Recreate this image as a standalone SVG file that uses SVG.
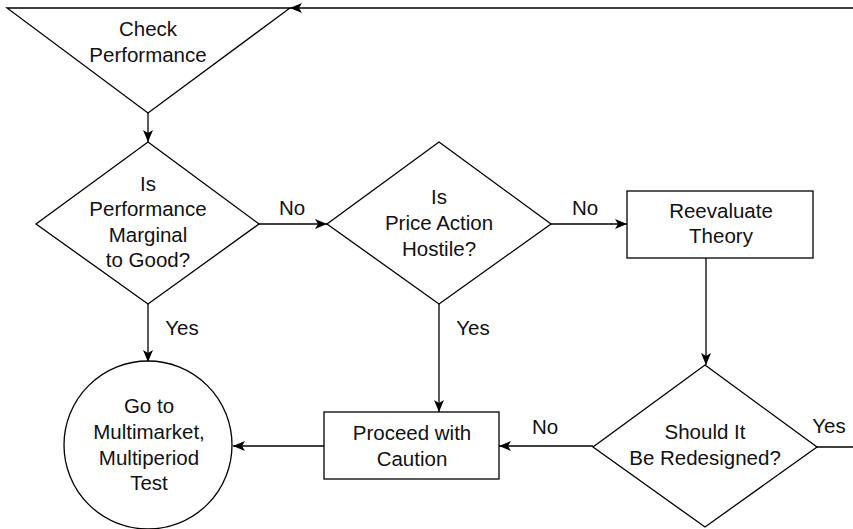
<svg xmlns="http://www.w3.org/2000/svg" width="853" height="529" viewBox="0 0 853 529">
<defs>
<marker id="ah" markerWidth="12" markerHeight="10" refX="12" refY="5" orient="auto" markerUnits="userSpaceOnUse">
<path d="M0,0 L12,5 L0,10 L3,5 Z" fill="#000"/>
</marker>
</defs>
<style>
.s{fill:#fff;stroke:#000;stroke-width:1.3}
.c{fill:none;stroke:#000;stroke-width:1.3}
text{font-family:"Liberation Sans",Arial,sans-serif;font-size:20.5px;fill:#111;text-anchor:middle}
</style>
<rect width="853" height="529" fill="#fff"/>
<g id="connectors">
<line class="c" x1="853" y1="8" x2="290" y2="8" marker-end="url(#ah)"/>
<line class="c" x1="148" y1="113" x2="148" y2="142" marker-end="url(#ah)"/>
<line class="c" x1="259" y1="224" x2="327" y2="224" marker-end="url(#ah)"/>
<line class="c" x1="551" y1="224" x2="627" y2="224" marker-end="url(#ah)"/>
<line class="c" x1="706" y1="258" x2="706" y2="365" marker-end="url(#ah)"/>
<line class="c" x1="148" y1="304" x2="148" y2="362" marker-end="url(#ah)"/>
<line class="c" x1="439" y1="304" x2="439" y2="412" marker-end="url(#ah)"/>
<line class="c" x1="593" y1="446" x2="499" y2="446" marker-end="url(#ah)"/>
<line class="c" x1="324" y1="446" x2="233" y2="446" marker-end="url(#ah)"/>
<line class="c" x1="817" y1="447" x2="853" y2="447"/>
<text x="292" y="215">No</text>
<text x="585" y="215">No</text>
<text x="182" y="335">Yes</text>
<text x="473" y="335">Yes</text>
<text x="545" y="434">No</text>
<text x="829" y="433">Yes</text>
</g>
<g id="check">
<polygon class="s" points="7,8 290,8 148,113"/>
<text x="148" y="36">Check</text>
<text x="148" y="62">Performance</text>
</g>
<g id="marginal">
<polygon class="s" points="148,142 259,224 148,304 36,224"/>
<text x="148" y="191">Is</text>
<text x="148" y="216">Performance</text>
<text x="148" y="242">Marginal</text>
<text x="148" y="267">to Good?</text>
</g>
<g id="hostile">
<polygon class="s" points="439,142 551,224 439,304 327,224"/>
<text x="439" y="204">Is</text>
<text x="439" y="230">Price Action</text>
<text x="439" y="256">Hostile?</text>
</g>
<g id="reevaluate">
<rect class="s" x="627" y="191" width="186" height="67"/>
<text x="721" y="218">Reevaluate</text>
<text x="721" y="243">Theory</text>
</g>
<g id="redesign">
<polygon class="s" points="705,365 817,447 705,527 593,447"/>
<text x="705" y="439">Should It</text>
<text x="705" y="465">Be Redesigned?</text>
</g>
<g id="proceed">
<rect class="s" x="324" y="412" width="175" height="67"/>
<text x="412" y="440">Proceed with</text>
<text x="412" y="466">Caution</text>
</g>
<g id="multimarket">
<circle class="s" cx="148" cy="445" r="84"/>
<text x="149" y="413">Go to</text>
<text x="149" y="439">Multimarket,</text>
<text x="149" y="465">Multiperiod</text>
<text x="149" y="490">Test</text>
</g>
</svg>
